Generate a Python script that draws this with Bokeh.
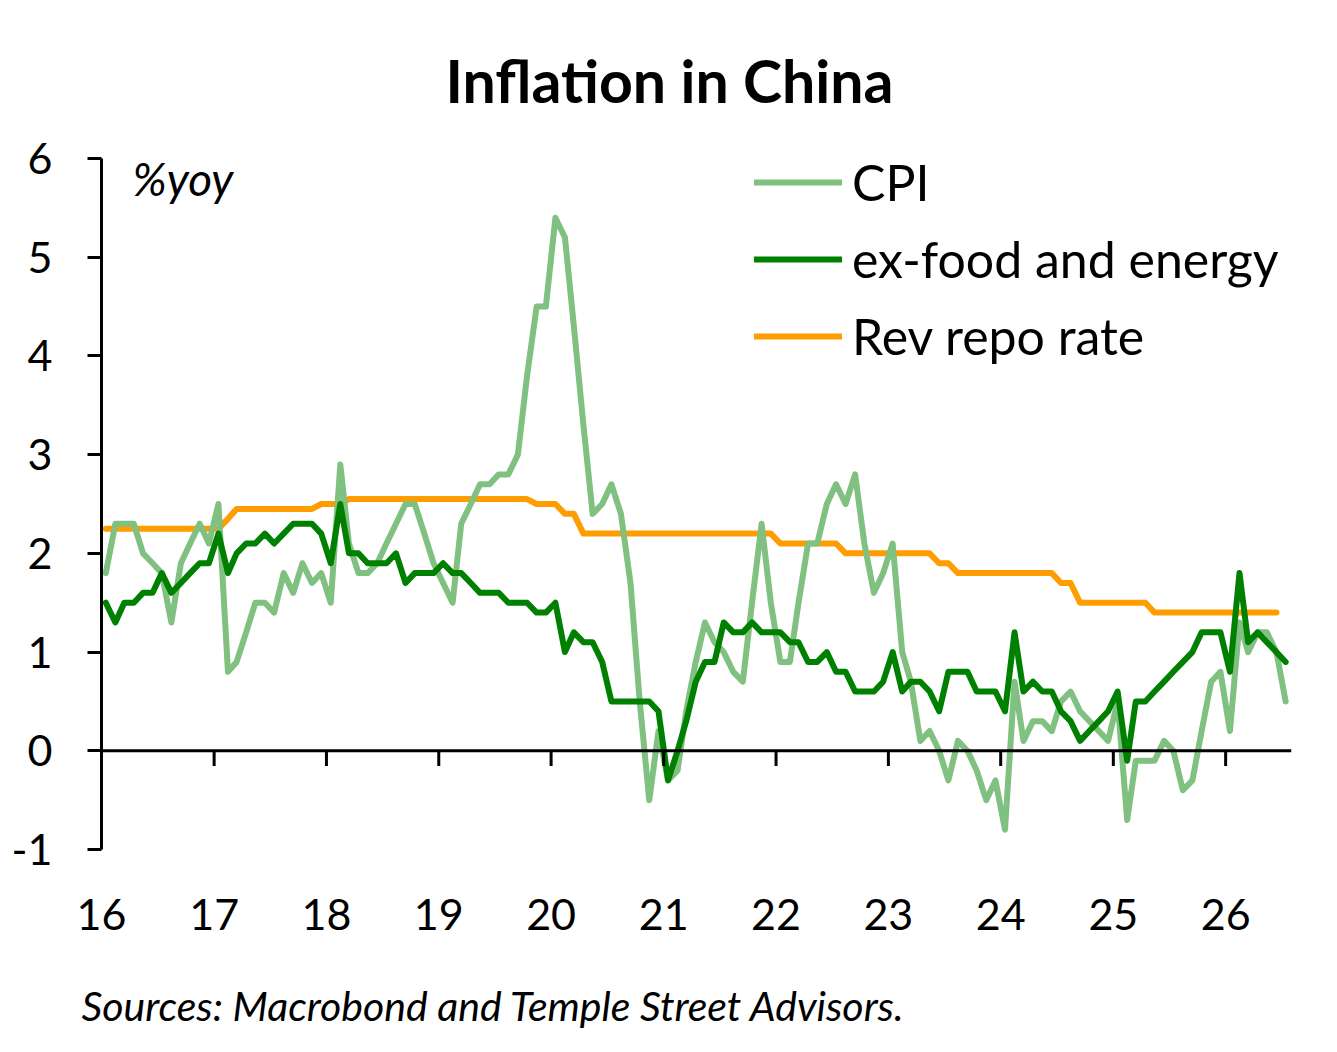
import pandas as pd
from bokeh.plotting import figure
from bokeh.models import (ColumnDataSource, Range1d, FixedTicker, DatetimeTickFormatter,
                          Span, Label, Legend, LegendItem, Title)
from bokeh.embed import file_html
from bokeh.resources import INLINE

# ---- data (monthly, % y/y) ----
cpi_2016 = [1.8, 2.3, 2.3, 2.3, 2.0, 1.9, 1.8, 1.3, 1.9, 2.1, 2.3, 2.1]
cpi_2017 = [2.5, 0.8, 0.9, 1.2, 1.5, 1.5, 1.4, 1.8, 1.6, 1.9, 1.7, 1.8]
cpi_2018 = [1.5, 2.9, 2.1, 1.8, 1.8, 1.9, 2.1, 2.3, 2.5, 2.5, 2.2, 1.9]
cpi_2019 = [1.7, 1.5, 2.3, 2.5, 2.7, 2.7, 2.8, 2.8, 3.0, 3.8, 4.5, 4.5]
cpi_2020 = [5.4, 5.2, 4.3, 3.3, 2.4, 2.5, 2.7, 2.4, 1.7, 0.5, -0.5, 0.2]
cpi_2021 = [-0.3, -0.2, 0.4, 0.9, 1.3, 1.1, 1.0, 0.8, 0.7, 1.5, 2.3, 1.5]
cpi_2022 = [0.9, 0.9, 1.5, 2.1, 2.1, 2.5, 2.7, 2.5, 2.8, 2.1, 1.6, 1.8]
cpi_2023 = [2.1, 1.0, 0.7, 0.1, 0.2, 0.0, -0.3, 0.1, 0.0, -0.2, -0.5, -0.3]
cpi_2024 = [-0.8, 0.7, 0.1, 0.3, 0.3, 0.2, 0.5, 0.6, 0.4, 0.3, 0.2, 0.1]
cpi_2025 = [0.5, -0.7, -0.1, -0.1, -0.1, 0.1, 0.0, -0.4, -0.3, 0.2, 0.7, 0.8]
cpi_2026 = [0.2, 1.3, 1.0, 1.2, 1.2, 1.0, 0.5]

core_2016 = [1.5, 1.3, 1.5, 1.5, 1.6, 1.6, 1.8, 1.6, 1.7, 1.8, 1.9, 1.9]
core_2017 = [2.2, 1.8, 2.0, 2.1, 2.1, 2.2, 2.1, 2.2, 2.3, 2.3, 2.3, 2.2]
core_2018 = [1.9, 2.5, 2.0, 2.0, 1.9, 1.9, 1.9, 2.0, 1.7, 1.8, 1.8, 1.8]
core_2019 = [1.9, 1.8, 1.8, 1.7, 1.6, 1.6, 1.6, 1.5, 1.5, 1.5, 1.4, 1.4]
core_2020 = [1.5, 1.0, 1.2, 1.1, 1.1, 0.9, 0.5, 0.5, 0.5, 0.5, 0.5, 0.4]
core_2021 = [-0.3, 0.0, 0.3, 0.7, 0.9, 0.9, 1.3, 1.2, 1.2, 1.3, 1.2, 1.2]
core_2022 = [1.2, 1.1, 1.1, 0.9, 0.9, 1.0, 0.8, 0.8, 0.6, 0.6, 0.6, 0.7]
core_2023 = [1.0, 0.6, 0.7, 0.7, 0.6, 0.4, 0.8, 0.8, 0.8, 0.6, 0.6, 0.6]
core_2024 = [0.4, 1.2, 0.6, 0.7, 0.6, 0.6, 0.4, 0.3, 0.1, 0.2, 0.3, 0.4]
core_2025 = [0.6, -0.1, 0.5, 0.5, 0.6, 0.7, 0.8, 0.9, 1.0, 1.2, 1.2, 1.2]
core_2026 = [0.8, 1.8, 1.1, 1.2, 1.1, 1.0, 0.9]

repo_2016 = [2.25, 2.25, 2.25, 2.25, 2.25, 2.25, 2.25, 2.25, 2.25, 2.25, 2.25, 2.25]
repo_2017 = [2.25, 2.35, 2.45, 2.45, 2.45, 2.45, 2.45, 2.45, 2.45, 2.45, 2.45, 2.5]
repo_2018 = [2.5, 2.5, 2.55, 2.55, 2.55, 2.55, 2.55, 2.55, 2.55, 2.55, 2.55, 2.55]
repo_2019 = [2.55, 2.55, 2.55, 2.55, 2.55, 2.55, 2.55, 2.55, 2.55, 2.55, 2.5, 2.5]
repo_2020 = [2.5, 2.4, 2.4, 2.2, 2.2, 2.2, 2.2, 2.2, 2.2, 2.2, 2.2, 2.2]
repo_2021 = [2.2, 2.2, 2.2, 2.2, 2.2, 2.2, 2.2, 2.2, 2.2, 2.2, 2.2, 2.2]
repo_2022 = [2.1, 2.1, 2.1, 2.1, 2.1, 2.1, 2.1, 2.0, 2.0, 2.0, 2.0, 2.0]
repo_2023 = [2.0, 2.0, 2.0, 2.0, 2.0, 1.9, 1.9, 1.8, 1.8, 1.8, 1.8, 1.8]
repo_2024 = [1.8, 1.8, 1.8, 1.8, 1.8, 1.8, 1.7, 1.7, 1.5, 1.5, 1.5, 1.5]
repo_2025 = [1.5, 1.5, 1.5, 1.5, 1.4, 1.4, 1.4, 1.4, 1.4, 1.4, 1.4, 1.4]
repo_2026 = [1.4, 1.4, 1.4, 1.4, 1.4, 1.4]

tick_years = [2016, 2017, 2018, 2019, 2020, 2021, 2022, 2023, 2024, 2025, 2026]
y_ticks = [-1, 0, 1, 2, 3, 4, 5, 6]

cpi = (cpi_2016 + cpi_2017 + cpi_2018 + cpi_2019 + cpi_2020 + cpi_2021 + cpi_2022
       + cpi_2023 + cpi_2024 + cpi_2025 + cpi_2026)
core = (core_2016 + core_2017 + core_2018 + core_2019 + core_2020 + core_2021 + core_2022
        + core_2023 + core_2024 + core_2025 + core_2026)
repo = (repo_2016 + repo_2017 + repo_2018 + repo_2019 + repo_2020 + repo_2021 + repo_2022
        + repo_2023 + repo_2024 + repo_2025 + repo_2026)

months = pd.date_range("2016-01-01", periods=len(cpi), freq="MS") + pd.Timedelta(days=14)
src = ColumnDataSource(dict(date=months, cpi=cpi, core=core))
src_repo = ColumnDataSource(dict(date=months[:len(repo)], repo=repo))

tick_dates = [pd.Timestamp(f"{y}-01-01") for y in tick_years]
tick_ms = [int(t.value // 10**6) for t in tick_dates]

FONT = "Lato"

p = figure(
    output_backend="svg", toolbar_location=None,
    x_axis_type="datetime",
    frame_width=1190, frame_height=691,
    min_border_left=101, min_border_right=30, min_border_top=158, min_border_bottom=190,
    x_range=Range1d(pd.Timestamp("2016-01-01"), pd.Timestamp("2026-08-03")),
    y_range=Range1d(-1, 6),
    background_fill_color="white", border_fill_color="white",
)
p.outline_line_color = None
p.grid.visible = False

# title (above) and source note (below)
p.title = Title(text="Inflation in China", align="left", offset=344, text_font=FONT,
                text_font_style="bold", text_font_size="59px", text_color="black",
                standoff=85)
p.add_layout(Title(text="Sources: Macrobond and Temple Street Advisors.", align="left",
                   offset=-20, text_font=FONT, text_font_style="italic",
                   text_font_size="41px", text_color="black", standoff=92), "below")

# lines
r_repo = p.line("date", "repo", source=src_repo, line_color="#ff9c00", line_width=6,
                line_join="round", line_cap="round")
r_cpi = p.line("date", "cpi", source=src, line_color="#80c080", line_width=6,
               line_join="round", line_cap="round")
r_core = p.line("date", "core", source=src, line_color="#008000", line_width=6,
                line_join="round", line_cap="round")

# zero line and its ticks
p.add_layout(Span(location=0, dimension="width", line_color="black", line_width=3))
p.segment(x0=tick_dates[1:], y0=0, x1=tick_dates[1:], y1=-0.155,
          line_color="black", line_width=3)

# y axis
yax = p.yaxis[0]
yax.ticker = FixedTicker(ticks=y_ticks)
yax.major_label_overrides = {-1: "-1"}
yax.axis_line_width = 3
yax.axis_line_color = "black"
yax.major_tick_out = 14
yax.major_tick_in = 0
yax.major_tick_line_width = 3
yax.major_tick_line_color = "black"
yax.minor_tick_line_color = None
yax.major_label_standoff = 35
yax.major_label_text_font = FONT
yax.major_label_text_font_size = "43px"
yax.major_label_text_color = "black"

# x axis (labels only)
xax = p.xaxis[0]
xax.ticker = FixedTicker(ticks=tick_ms)
xax.formatter = DatetimeTickFormatter(years="%y", months="%y", days="%y", hours="%y",
                                      minutes="%y", seconds="%y", milliseconds="%y")
xax.axis_line_color = None
xax.major_tick_line_color = None
xax.minor_tick_line_color = None
xax.major_tick_out = 0
xax.major_tick_in = 0
xax.major_label_standoff = 49
xax.major_label_text_font = FONT
xax.major_label_text_font_size = "43px"
xax.major_label_text_color = "black"

p.add_layout(Label(x=31, y=671, x_units="screen", y_units="screen",
                   text="%yoy", text_font=FONT, text_font_style="italic",
                   text_font_size="46px", text_align="left", text_baseline="alphabetic",
                   text_color="black"))

legend = Legend(
    items=[LegendItem(label="CPI", renderers=[r_cpi]),
           LegendItem(label="ex-food and energy", renderers=[r_core]),
           LegendItem(label="Rev repo rate", renderers=[r_repo])],
    location=(653, 478), orientation="vertical",
    glyph_width=88, glyph_height=70, label_height=70, spacing=7,
    padding=0, margin=0, label_standoff=10,
    label_text_font=FONT, label_text_font_size="50px", label_text_color="black",
    border_line_color=None, background_fill_alpha=0,
)
p.add_layout(legend)

open("out.html", "w").write(file_html(p, INLINE))
